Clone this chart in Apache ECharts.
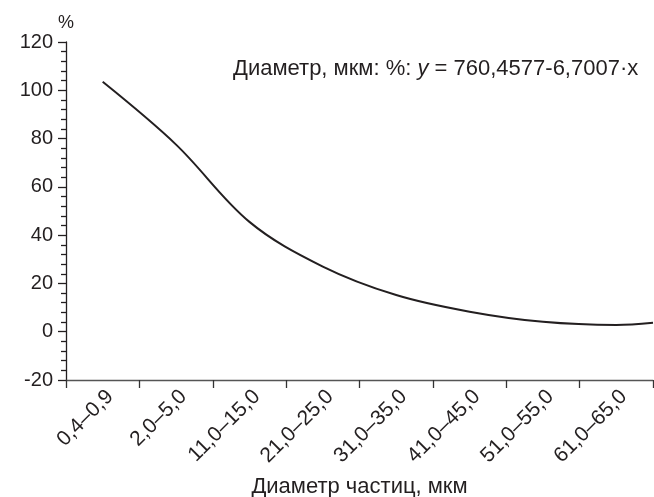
<!DOCTYPE html>
<html>
<head>
<meta charset="utf-8">
<script src="https://cdn.jsdelivr.net/npm/echarts@6/dist/echarts.min.js"></script>
<style>
  html, body { margin: 0; padding: 0; background: #fff; }
  #chart { width: 654px; height: 497px; }
</style>
</head>
<body>
<div id="chart"></div>
<script>
// Категории (диапазоны диаметров частиц)
const categories = ['0,4–0,9', '2,0–5,0', '11,0–15,0', '21,0–25,0', '31,0–35,0', '41,0–45,0', '51,0–55,0', '61,0–65,0'];

// Положение точек кривой в долях категорий (центр полосы = i + 0.5, последняя — край оси)
const curveX = [0.5, 1.5, 2.5, 3.5, 4.5, 5.5, 6.5, 7.5, 8];
// Значения кривой, %
const curveY = [103.5, 77.5, 45.5, 27, 15.2, 8.3, 4.1, 2.8, 3.7];

const fontFamily = '"Liberation Sans", Arial, sans-serif';
const ink = '#231f20';

function buildOption() {
    return {
        animation: false,
        textStyle: { fontFamily: fontFamily },
        grid: { left: 66, right: 1, top: 42, bottom: 117, containLabel: false, outerBoundsMode: 'none' },
        xAxis: [
            {
                type: 'category',
                data: categories,
                boundaryGap: true,
                name: 'Диаметр частиц, мкм',
                nameLocation: 'middle',
                nameGap: 96,
                nameMoveOverlap: false,
                nameTextStyle: { fontSize: 22, color: ink },
                axisLine: { onZero: false, lineStyle: { color: '#555', width: 1.3 } },
                axisTick: { show: true, length: 8, inside: false, lineStyle: { color: '#333', width: 1.3 } },
                axisLabel: { rotate: 45, margin: 6, fontSize: 21, color: ink, verticalAlign: 'top' },
                splitLine: { show: false }
            },
            {
                type: 'value',
                min: 0,
                max: 8,
                show: false
            }
        ],
        yAxis: {
            type: 'value',
            min: -20,
            max: 120,
            interval: 20,
            name: '%',
            nameLocation: 'end',
            nameGap: 10,
            nameTextStyle: { fontSize: 18, color: ink, align: 'center' },
            axisLine: { show: true, lineStyle: { color: ink, width: 1.3 } },
            axisTick: { show: true, length: 8, lineStyle: { color: ink, width: 1.3 } },
            minorTick: { show: true, splitNumber: 5, length: 5, lineStyle: { color: ink, width: 1.3 } },
            axisLabel: { fontSize: 20, margin: 13, color: ink },
            splitLine: { show: false }
        },
        graphic: [
            {
                type: 'text',
                left: 233,
                top: 58,
                style: {
                    text: 'Диаметр, мкм: %: {i|y} = 760,4577-6,7007·x',
                    fontSize: 22,
                    fontFamily: fontFamily,
                    fill: ink,
                    rich: {
                        i: { fontStyle: 'italic', fontSize: 22, fontFamily: fontFamily, fill: ink }
                    }
                }
            }
        ],
        series: [
            {
                type: 'line',
                xAxisIndex: 1,
                data: curveX.map((x, i) => [x, curveY[i]]),
                smooth: 0.35,
                showSymbol: false,
                lineStyle: { color: ink, width: 2 }
            }
        ]
    };
}

const chart = echarts.init(document.getElementById('chart'));
chart.setOption(buildOption());
</script>
</body>
</html>
